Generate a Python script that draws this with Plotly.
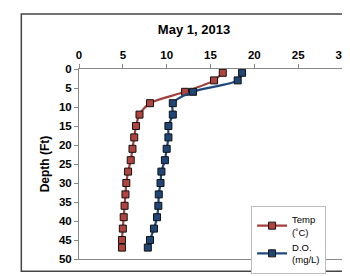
import plotly.graph_objects as go

depth = [1, 3, 6, 9, 12, 15, 18, 21, 24, 27, 30, 33, 36, 39, 42, 45, 47]
temp = [16.4, 15.4, 12.1, 8.1, 6.9, 6.5, 6.3, 6.1, 5.9, 5.6, 5.4, 5.3, 5.2, 5.1, 5.0, 4.9, 4.9]
do = [18.6, 18.1, 13.0, 10.7, 10.7, 10.2, 10.2, 10.0, 9.8, 9.4, 9.3, 9.1, 9.05, 8.9, 8.55, 8.1, 7.85]

W, H = 350, 276
L, R, T, B = 71, 340, 61, 261
FONT = "Liberation Sans, Arial"

fig = go.Figure()
fig.add_trace(go.Scatter(
    x=temp, y=depth, mode="lines+markers", name="Temp<br>(˚C)",
    line=dict(color="#A2403D", width=2.2, shape="spline", smoothing=0.8),
    marker=dict(symbol="square", size=7, color="#B2443F", line=dict(color="#111", width=1)),
))
fig.add_trace(go.Scatter(
    x=do, y=depth, mode="lines+markers", name="D.O.<br>(mg/L)",
    line=dict(color="#1F497D", width=2.2, shape="spline", smoothing=0.8),
    marker=dict(symbol="square", size=7, color="#1F4676", line=dict(color="#111", width=1)),
))

fig.update_layout(
    width=W, height=H,
    margin=dict(l=L, r=W - R, t=T, b=H - B),
    paper_bgcolor="white", plot_bgcolor="white",
    font=dict(family=FONT, color="#000"),
    title=dict(text="May 1, 2013", x=186 / W, xanchor="center", y=1 - 21 / H, yanchor="middle",
               font=dict(size=13, weight="bold", family=FONT)),
    xaxis=dict(side="top", range=[0, 30], tickvals=[0, 5, 10, 15, 20, 25, 30],
               tickfont=dict(size=11.5, weight="bold", family=FONT), ticks="outside", ticklen=4,
               tickcolor="#888", showline=True, linecolor="#888", linewidth=1, mirror=True,
               showgrid=False, zeroline=False),
    yaxis=dict(range=[50, 0], tickvals=[0, 5, 10, 15, 20, 25, 30, 35, 40, 45, 50],
               tickfont=dict(size=11.5, weight="bold", family=FONT), ticks="outside", ticklen=4,
               tickcolor="#888",
               showline=True, linecolor="#888", linewidth=1, mirror=True,
               showgrid=False, zeroline=False,
               title=dict(text="Depth (Ft)", font=dict(size=12, weight="bold", family=FONT), standoff=6)),
    legend=dict(x=(247 - L) / (R - L), y=(B - 205) / (B - T), xanchor="left", yanchor="top",
                bordercolor="#BBB", borderwidth=1, bgcolor="white",
                font=dict(size=9.5, family=FONT), itemwidth=30, tracegroupgap=0),
    showlegend=True,
)
fig.add_shape(type="rect", xref="paper", yref="paper",
              x0=(12 - L) / (R - L), x1=(353 - L) / (R - L),
              y0=(B - 274) / (B - T), y1=(B - 3) / (B - T),
              line=dict(color="#444", width=1.5), layer="below")

fig.write_html("out.html")
